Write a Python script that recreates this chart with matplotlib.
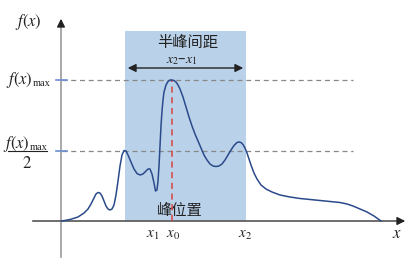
import matplotlib
matplotlib.use("Agg")
import matplotlib.pyplot as plt
from matplotlib.patches import Rectangle

plt.rcParams['font.family'] = ['Noto Sans CJK SC', 'DejaVu Sans']
plt.rcParams['mathtext.fontset'] = 'stix'

# 曲线读数 (x 位置, 高于基线的高度)
curve_x = [62, 70, 78, 84, 88, 91, 94, 96, 98, 100, 102, 104, 106, 108, 110, 112,
           114, 116, 118, 120, 122, 124, 126, 128, 131, 134, 137, 140, 143, 146,
           148, 150, 152, 154, 155.5, 157, 158, 159, 160, 161, 162, 163, 164, 166,
           168, 170, 172, 174, 176, 178, 180, 183, 186, 189, 192, 195, 198, 201,
           204, 207, 210, 213, 216, 219, 222, 225, 228, 231, 234, 237, 239, 241,
           243, 245, 247, 249, 251, 254, 257, 261, 266, 272, 280, 290, 300, 315,
           330, 340, 347, 353, 360, 367, 374, 381]
curve_y = [0, 1.5, 4, 8, 12, 17, 23, 27, 28.5, 28, 25, 20, 15, 12, 11, 12,
           16, 26, 40, 55, 66, 70.5, 70, 66, 59, 52, 47.5, 46, 47, 50,
           52, 52, 47, 38, 30, 31, 40, 55, 75, 95, 110, 121, 129, 136,
           139.5, 141, 141, 140.5, 139, 136, 132, 124, 114, 104, 95, 87, 80, 73,
           66, 61, 57, 55, 54.5, 55, 57, 61, 66, 71, 75.5, 78.5, 79, 78.5,
           76.5, 73, 68, 62, 56, 48, 42, 36, 32, 29, 26, 24, 22.5, 21,
           19.5, 18.5, 17, 15, 12, 9, 5, 0]

f_max = 141
x1, x0, x2 = 125, 172, 246
tick_pos = [153, 173, 245]
tick_labels = ['$x_1$', '$x_0$', '$x_2$']

fig = plt.figure(figsize=(4.15, 2.66), dpi=100)
ax = fig.add_axes([0, 0, 1, 1])
ax.set_xlim(0, 415)
ax.set_ylim(-45, 221)
ax.axis('off')

# 半峰宽区域
ax.add_patch(Rectangle((x1, 0), x2 - x1, 190, facecolor='#b9d1e9', edgecolor='none', zorder=1))

# 坐标轴
ax.plot([61, 61], [-36, 198], color='#999999', lw=1.2, zorder=2)
ax.annotate('', xy=(61, 205), xytext=(61, 195),
            arrowprops=dict(arrowstyle='-|>', color='#222222', lw=1, mutation_scale=12), zorder=3)
ax.plot([33, 398], [0, 0], color='#555555', lw=1.2, zorder=2)
ax.annotate('', xy=(408, 0), xytext=(396, 0),
            arrowprops=dict(arrowstyle='-|>', color='#222222', lw=1, mutation_scale=12), zorder=3)

# 虚线
ax.plot([62, 353], [f_max, f_max], color='#888888', lw=0.9, ls=(0, (4, 3)), zorder=2)
ax.plot([62, 353], [f_max / 2, f_max / 2], color='#888888', lw=0.9, ls=(0, (4, 3)), zorder=2)
ax.plot([56, 67], [f_max, f_max], color='#6b8fd0', lw=1.2, zorder=3)
ax.plot([56, 67], [f_max / 2, f_max / 2], color='#6b8fd0', lw=1.2, zorder=3)
ax.plot([x0, x0], [0, f_max], color='#d9443f', lw=1.1, ls=(0, (4, 3)), zorder=4)

# 曲线
ax.plot(curve_x, curve_y, color='#2b4a8b', lw=1.1, zorder=5)

# 双箭头
ax.annotate('', xy=(x2, 153), xytext=(x1, 153),
            arrowprops=dict(arrowstyle='<|-|>', color='#222222', lw=1, mutation_scale=12), zorder=6)

ax.text(188, 179, '半峰间距', ha='center', va='center', fontsize=11, color='#222222')
ax.text(182, 161, '$x_2$\u2013$x_1$', ha='center', va='center', fontsize=10, color='#222222')
ax.text(180, 10, '峰位置', ha='center', va='center', fontsize=11, color='#222222')

for p, lab in zip(tick_pos, tick_labels):
    ax.text(p, -13, lab, ha='center', va='center', fontsize=11, color='#222222')
ax.text(397, -12, '$x$', ha='center', va='center', fontsize=12, color='#222222')

ax.text(28, 199, '$f(x)$', ha='center', va='center', fontsize=12, color='#222222')

# f(x)max 标签
ax.text(33, f_max, '$f(x)$', ha='right', va='center', fontsize=12, color='#222222')
ax.text(32.5, f_max - 4, 'max', ha='left', va='center', fontsize=7.5,
        family='Liberation Serif', color='#222222')
ax.text(30, 77, '$f(x)$', ha='right', va='center', fontsize=12, color='#222222')
ax.text(29.5, 73, 'max', ha='left', va='center', fontsize=7.5,
        family='Liberation Serif', color='#222222')
ax.plot([8, 47], [f_max / 2, f_max / 2], color='#222222', lw=0.8)
ax.text(27, 58, '$2$', ha='center', va='center', fontsize=12, color='#222222')

fig.savefig('out.png', dpi=100)
